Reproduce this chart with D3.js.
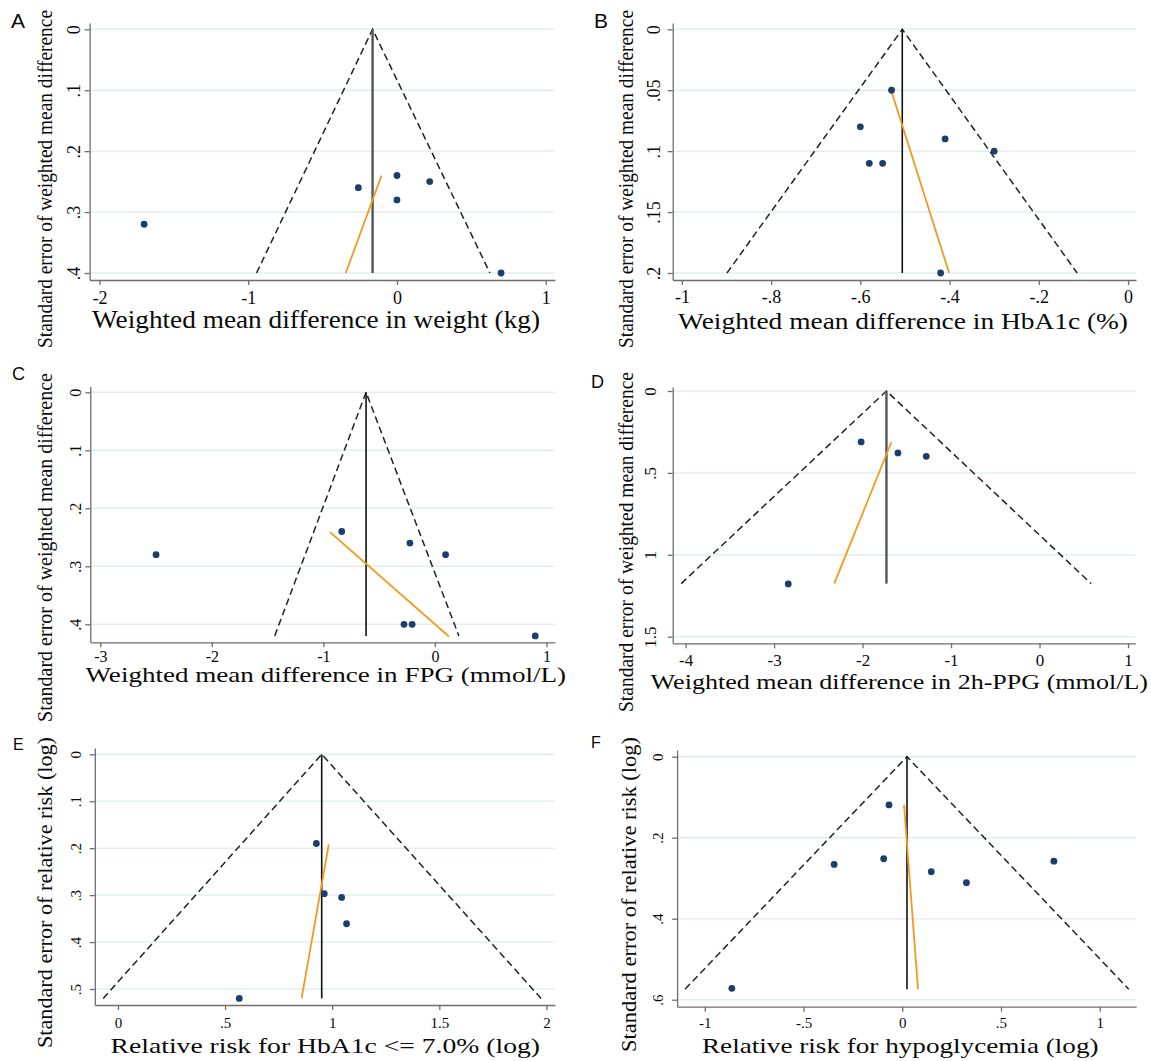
<!DOCTYPE html>
<html>
<head>
<meta charset="utf-8">
<script src="https://cdn.jsdelivr.net/npm/d3@7"></script>
<style>
  body { margin: 0; background: #fff; }
  svg { display: block; }
  text { font-family: "Liberation Serif", "Times New Roman", serif; fill: #0a0a0a; }
  .letter { font-family: "Liberation Sans", Arial, sans-serif; }
</style>
</head>
<body>
<svg id="chart" width="1151" height="1061"></svg>
<script>
// ---- data ----
// A: weight (kg)
var pointsA = [[-1.70, 0.32], [-0.26, 0.26], [0.00, 0.24], [0.22, 0.25], [0.00, 0.28], [0.70, 0.40]];
var pooledA = -0.164, seMaxA = 0.40, limitsA = [-0.944, 0.625];
var eggerA = [[-0.344, 0.40], [-0.104, 0.24]];
var xTicksA = [-2, -1, 0, 1], xLabelsA = ["-2", "-1", "0", "1"];
var yTicksA = [0, 0.1, 0.2, 0.3, 0.4], yLabelsA = ["0", ".1", ".2", ".3", ".4"];

// B: HbA1c (%)
var pointsB = [[-0.53, 0.05], [-0.60, 0.08], [-0.41, 0.09], [-0.30, 0.10], [-0.58, 0.11], [-0.55, 0.11], [-0.42, 0.20]];
var pooledB = -0.506, seMaxB = 0.20, limitsB = [-0.899, -0.114];
var eggerB = [[-0.531, 0.05], [-0.401, 0.20]];
var xTicksB = [-1, -0.8, -0.6, -0.4, -0.2, 0], xLabelsB = ["-1", "-.8", "-.6", "-.4", "-.2", "0"];
var yTicksB = [0, 0.05, 0.1, 0.15, 0.2], yLabelsB = ["0", ".05", ".1", ".15", ".2"];

// C: FPG (mmol/L)
var pointsC = [[-2.50, 0.28], [-0.835, 0.24], [-0.224, 0.26], [0.096, 0.28], [-0.277, 0.40], [-0.204, 0.40], [0.90, 0.42]];
var pooledC = -0.617, seMaxC = 0.42, limitsC = [-1.436, 0.215];
var eggerC = [[-0.94, 0.241], [0.126, 0.421]];
var xTicksC = [-3, -2, -1, 0, 1], xLabelsC = ["-3", "-2", "-1", "0", "1"];
var yTicksC = [0, 0.1, 0.2, 0.3, 0.4], yLabelsC = ["0", ".1", ".2", ".3", ".4"];

// D: 2h-PPG (mmol/L)
var pointsD = [[-2.016, 0.311], [-1.60, 0.378], [-1.28, 0.399], [-2.84, 1.178]];
var pooledD = -1.73, seMaxD = 1.176, limitsD = [-4.05, 0.584];
var eggerD = [[-2.32, 1.176], [-1.675, 0.313]];
var xTicksD = [-4, -3, -2, -1, 0, 1], xLabelsD = ["-4", "-3", "-2", "-1", "0", "1"];
var yTicksD = [0, 0.5, 1, 1.5], yLabelsD = ["0", ".5", "1", "1.5"];

// E: RR for HbA1c <= 7.0% (log)
var pointsE = [[0.926, 0.19], [0.963, 0.297], [1.044, 0.305], [1.067, 0.361], [0.566, 0.52]];
var pooledE = 0.951, seMaxE = 0.52, limitsE = [-0.069, 1.975];
var eggerE = [[0.857, 0.52], [0.984, 0.192]];
var xTicksE = [0, 0.5, 1, 1.5, 2], xLabelsE = ["0", ".5", "1", "1.5", "2"];
var yTicksE = [0, 0.1, 0.2, 0.3, 0.4, 0.5], yLabelsE = ["0", ".1", ".2", ".3", ".4", ".5"];

// F: RR for hypoglycemia (log)
var pointsF = [[-0.067, 0.119], [-0.345, 0.266], [-0.094, 0.252], [0.147, 0.284], [0.325, 0.311], [0.768, 0.258], [-0.863, 0.572]];
var pooledF = 0.024, seMaxF = 0.574, limitsF = [-1.10, 1.147];
var eggerF = [[0.009, 0.119], [0.080, 0.574]];
var xTicksF = [-1, -0.5, 0, 0.5, 1], xLabelsF = ["-1", "-.5", "0", ".5", "1"];
var yTicksF = [0, 0.2, 0.4, 0.6], yLabelsF = ["0", ".2", ".4", ".6"];

// ---- layout (pixels) ----
var panels = [
  { letter: "A", pts: pointsA, pooled: pooledA, seMax: seMaxA, lim: limitsA, egger: eggerA,
    xt: xTicksA, xl: xLabelsA, yt: yTicksA, yl: yLabelsA,
    xTitle: "Weighted mean difference in weight (kg)", yTitle: "Standard error of weighted mean difference",
    xs: { t: [-2, 1], p: [99.5, 545.7], ext: [89.6, 554.9] }, ys: { t: [0, 0.4], p: [29.3, 273], ext: [23, 280] },
    lt: [11, 28, 21], xlab: [304, 18], ylabX: 74, xT: [92, 540, 328, 25], yT: [46, 179, 338, 20], mid: ["#555", 2.4] },
  { letter: "B", pts: pointsB, pooled: pooledB, seMax: seMaxB, lim: limitsB, egger: eggerB,
    xt: xTicksB, xl: xLabelsB, yt: yTicksB, yl: yLabelsB,
    xTitle: "Weighted mean difference in HbA1c (%)", yTitle: "Standard error of weighted mean difference",
    xs: { t: [-1, 0], p: [681.9, 1128], ext: [672.7, 1136] }, ys: { t: [0, 0.2], p: [29.3, 273], ext: [23, 280] },
    lt: [594, 28, 21], xlab: [303, 18], ylabX: 654, xT: [678, 1128, 329, 24], yT: [626.6, 179, 338, 20], mid: ["#111", 1.6] },
  { letter: "C", pts: pointsC, pooled: pooledC, seMax: seMaxC, lim: limitsC, egger: eggerC,
    xt: xTicksC, xl: xLabelsC, yt: yTicksC, yl: yLabelsC,
    xTitle: "Weighted mean difference in FPG (mmol/L)", yTitle: "Standard error of weighted mean difference",
    xs: { t: [-3, 1], p: [100.3, 546.4], ext: [90.3, 554.9] }, ys: { t: [0, 0.4], p: [392.3, 624.3], ext: [386.5, 642.3] },
    lt: [12, 380, 18], xlab: [662, 16], ylabX: 75.6, xT: [85.5, 566, 682, 21], yT: [46, 547.5, 349, 20], mid: ["#111", 1.6] },
  { letter: "D", pts: pointsD, pooled: pooledD, seMax: seMaxD, lim: limitsD, egger: eggerD,
    xt: xTicksD, xl: xLabelsD, yt: yTicksD, yl: yLabelsD,
    xTitle: "Weighted mean difference in 2h-PPG (mmol/L)", yTitle: "Standard error of weighted mean difference",
    xs: { t: [-4, 1], p: [685.6, 1128], ext: [672.7, 1135.4] }, ys: { t: [0, 1.5], p: [391, 636.7], ext: [387, 643.3] },
    lt: [591, 388, 18], xlab: [666, 17], ylabX: 650, xT: [650.6, 1148, 689, 22], yT: [626.6, 542, 340, 20], mid: ["#555", 2.4] },
  { letter: "E", pts: pointsE, pooled: pooledE, seMax: seMaxE, lim: limitsE, egger: eggerE,
    xt: xTicksE, xl: xLabelsE, yt: yTicksE, yl: yLabelsE,
    xTitle: "Relative risk for HbA1c <= 7.0% (log)", yTitle: "Standard error of relative risk (log)",
    xs: { t: [0, 2], p: [118, 546.4], ext: [94.8, 554.9] }, ys: { t: [0, 0.5], p: [754.3, 989], ext: [748, 1005] },
    lt: [13, 750, 16], xlab: [1028, 15], ylabX: 75.6, xT: [110.6, 540, 1053, 21], yT: [46, 892.5, 311, 20], mid: ["#111", 1.6] },
  { letter: "F", pts: pointsF, pooled: pooledF, seMax: seMaxF, lim: limitsF, egger: eggerF,
    xt: xTicksF, xl: xLabelsF, yt: yTicksF, yl: yLabelsF,
    xTitle: "Relative risk for hypoglycemia (log)", yTitle: "Standard error of relative risk (log)",
    xs: { t: [-1, 1], p: [704.8, 1099.7], ext: [677.1, 1136.2] }, ys: { t: [0, 0.6], p: [756.7, 999.7], ext: [750, 1006.7] },
    lt: [591, 748, 16], xlab: [1028, 15], ylabX: 658, xT: [702, 1098.5, 1053, 21], yT: [629.6, 894.5, 315, 20], mid: ["#111", 1.6] }
];

var svg = d3.select("#chart");

function extendScale(spec) {
  var s = d3.scaleLinear().domain(spec.t).range(spec.p);
  return s.domain([s.invert(spec.ext[0]), s.invert(spec.ext[1])]).range(spec.ext);
}

panels.forEach(function(P) {
  var g = svg.append("g").attr("class", "panel");
  var x = extendScale(P.xs);
  var y = extendScale(P.ys);
  var left = P.xs.ext[0], right = P.xs.ext[1], bottom = P.ys.ext[1];

  // gridlines
  g.selectAll(".grid").data(P.yt).enter().append("line")
    .attr("x1", left).attr("x2", right)
    .attr("y1", function(d) { return y(d); }).attr("y2", function(d) { return y(d); })
    .attr("stroke", "#e3eeef").attr("stroke-width", 1.5);

  // axes
  var xAxis = g.append("g").attr("transform", "translate(0," + bottom + ")")
    .call(d3.axisBottom(x).tickValues(P.xt).tickFormat(function(d, i) { return P.xl[i]; }).tickSizeInner(5).tickSizeOuter(0));
  xAxis.selectAll("text").attr("y", null).attr("dy", null)
    .attr("transform", "translate(0," + (P.xlab[0] - bottom) + ")")
    .style("font-size", P.xlab[1] + "px").style("font-family", "'Liberation Serif', serif").attr("fill", "#0a0a0a");

  var yAxis = g.append("g").attr("transform", "translate(" + left + ",0)")
    .call(d3.axisLeft(y).tickValues(P.yt).tickFormat(function(d, i) { return P.yl[i]; }).tickSizeInner(5).tickSizeOuter(0));
  var fs = P.xlab[1];
  yAxis.selectAll("text").attr("x", null).attr("dy", null)
    .attr("text-anchor", "middle")
    .attr("transform", "translate(" + (P.ylabX + fs * 0.33 - left) + ",0) rotate(-90)")
    .style("font-size", fs + "px").style("font-family", "'Liberation Serif', serif").attr("fill", "#0a0a0a");

  [xAxis, yAxis].forEach(function(a) {
    a.select(".domain").attr("stroke", "#6e6e6e").attr("stroke-width", 1.3);
    a.selectAll(".tick line").attr("stroke", "#6e6e6e").attr("stroke-width", 1.3);
  });

  // pseudo 95% confidence funnel
  var funnel = [[P.lim[0], P.seMax], [P.pooled, 0], [P.lim[1], P.seMax]];
  g.append("path")
    .attr("d", d3.line().x(function(d) { return x(d[0]); }).y(function(d) { return y(d[1]); })(funnel))
    .attr("fill", "none").attr("stroke", "#222").attr("stroke-width", 1.5).attr("stroke-dasharray", "7,4");

  // pooled estimate
  g.append("line")
    .attr("x1", x(P.pooled)).attr("x2", x(P.pooled))
    .attr("y1", y(0)).attr("y2", y(P.seMax))
    .attr("stroke", P.mid[0]).attr("stroke-width", P.mid[1]);

  // Egger regression line
  g.append("line")
    .attr("x1", x(P.egger[0][0])).attr("y1", y(P.egger[0][1]))
    .attr("x2", x(P.egger[1][0])).attr("y2", y(P.egger[1][1]))
    .attr("stroke", "#f39a1e").attr("stroke-width", 1.8);

  // studies
  g.selectAll(".study").data(P.pts).enter().append("circle")
    .attr("class", "study")
    .attr("cx", function(d) { return x(d[0]); })
    .attr("cy", function(d) { return y(d[1]); })
    .attr("r", 3.4)
    .attr("fill", "#1b3f6d");

  // titles
  g.append("text")
    .attr("x", P.xT[0]).attr("y", P.xT[2])
    .attr("textLength", P.xT[1] - P.xT[0]).attr("lengthAdjust", "spacingAndGlyphs")
    .style("font-size", P.xT[3] + "px")
    .text(P.xTitle);

  g.append("text")
    .attr("text-anchor", "middle")
    .attr("transform", "translate(" + (P.yT[0] + P.yT[3] * 0.3) + "," + P.yT[1] + ") rotate(-90)")
    .attr("textLength", P.yT[2]).attr("lengthAdjust", "spacingAndGlyphs")
    .style("font-size", P.yT[3] + "px")
    .text(P.yTitle);

  g.append("text").attr("class", "letter")
    .attr("x", P.lt[0]).attr("y", P.lt[1])
    .style("font-size", P.lt[2] + "px")
    .text(P.letter);
});
</script>
</body>
</html>
